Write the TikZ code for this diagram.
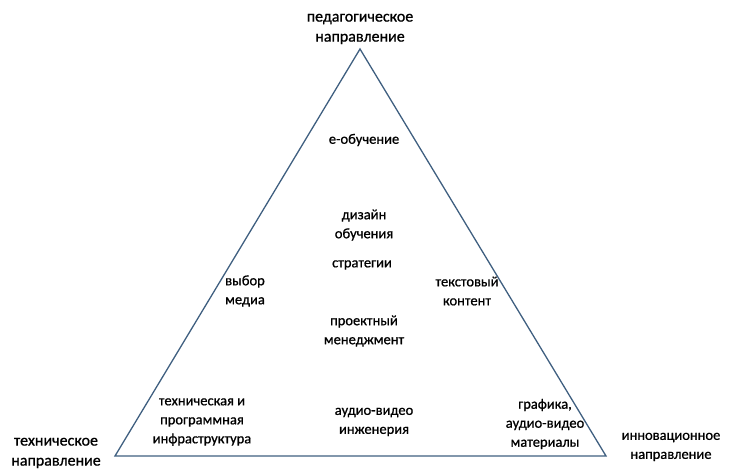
\documentclass[tikz,border=0pt]{standalone}
\usepackage{fontspec}
\setmainfont{Carlito}
\newfontfamily\lblfont{Carlito}[FakeBold=0.8]
\begin{document}
\begin{tikzpicture}[
            x=1pt, y=1pt,
            lbl/.style={align=center, font=\lblfont\fontsize{14.5}{19}\selectfont, inner sep=0pt},
            dir/.style={align=center, font=\lblfont\fontsize{16}{20}\selectfont, inner sep=0pt},
            edge/.style={draw=edgeblue, line width=1.3pt, line join=miter}
        ]
\definecolor{edgeblue}{HTML}{3F5F80}
\useasboundingbox (0,0) rectangle (734,469);

% Corners of the triangle
            \coordinate (top) at (360,420);
            \coordinate (left) at (115,13);
            \coordinate (right) at (606,13);
            \draw [edge] (top) -- (right) -- (left) -- cycle;

% Directions at the corners
            \node (ped) [dir] at (360,440) {педагогическое \\ направление};
            \node (tech) [dir] at (56,16) {техническое \\ направление};
            \node (innov) [lbl] at (671,22) {инновационное \\ направление};

% Inner labels
            \node (elearn) [lbl] at (364,329) {е-обучение};
            \node (design) [lbl] at (364,244) {дизайн \\ обучения};
            \node (strat) [lbl] at (362,204) {стратегии};
            \node (media) [lbl] at (245,178) {выбор \\ медиа};
            \node (text) [lbl] at (467,178) {текстовый \\ контент};
            \node (pm) [lbl] at (364,138) {проектный \\ менеджмент};

% Labels along the base
            \node (infra) [lbl] at (202,47) {техническая и \\ программная \\ инфраструктура};
            \node (av) [lbl] at (374,47) {аудио-видео \\ инженерия};
            \node (graph) [lbl] at (545,45) {графика, \\ аудио-видео \\ материалы};

        \end{tikzpicture}
\end{document}
